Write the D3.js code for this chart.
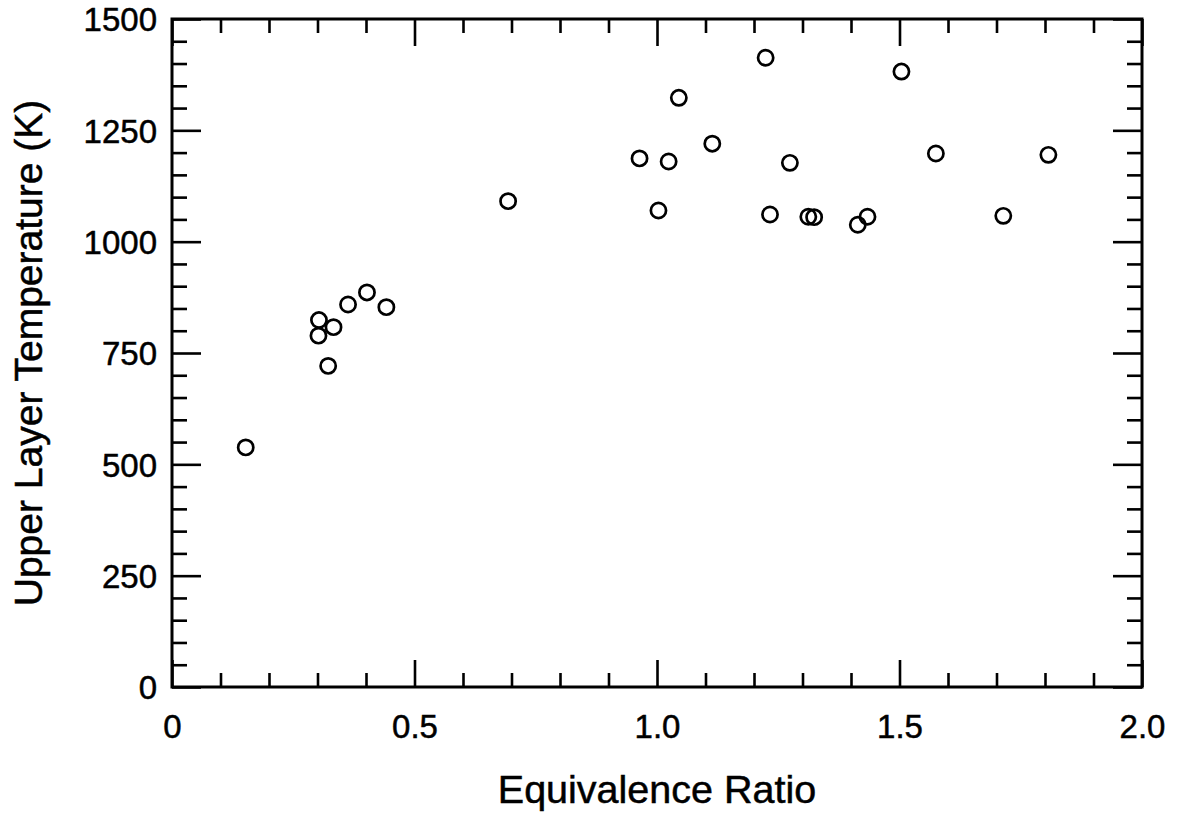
<!DOCTYPE html>
<html>
<head>
<meta charset="utf-8">
<script src="https://cdn.jsdelivr.net/npm/d3@7"></script>
<style>
  body { margin: 0; background: #fff; }
  text { font-family: "Liberation Sans", Arial, Helvetica, sans-serif; fill: #000;
         stroke: #000; stroke-width: 0.5px; }
</style>
</head>
<body>
<div id="chart"></div>
<script>
// data
const phi = [0.152, 0.303, 0.302, 0.333, 0.322, 0.363, 0.402, 0.442, 0.693,
             0.964, 1.003, 1.024, 1.045, 1.114, 1.224, 1.233, 1.274, 1.312, 1.324,
             1.414, 1.434, 1.504, 1.575, 1.714, 1.807];
const temp = [538, 824, 789, 808, 721, 859, 886, 853, 1091,
              1187, 1070, 1180, 1323, 1220, 1413, 1061, 1177, 1056, 1055,
              1038, 1056, 1382, 1198, 1058, 1195];

const xMajor = [0, 0.5, 1.0, 1.5, 2.0];
const xLabels = ["0", "0.5", "1.0", "1.5", "2.0"];
const yMajor = [0, 250, 500, 750, 1000, 1250, 1500];

const W = 1189, H = 826;
const margin = { top: 19, right: 47, bottom: 139, left: 172 };
const width = W - margin.left - margin.right;
const height = H - margin.top - margin.bottom;

const svg = d3.select("#chart").append("svg")
  .attr("width", W).attr("height", H);
const g = svg.append("g")
  .attr("transform", "translate(" + margin.left + "," + margin.top + ")");

const x = d3.scaleLinear().domain([0, 2]).range([0, width]);
const y = d3.scaleLinear().domain([0, 1500]).range([height, 0]);

const xMinor = d3.range(0, 21).map(d => d / 10).filter(d => Math.round(d * 10) % 5 !== 0);
const yMinor = d3.range(0, 1501, 50).filter(d => d % 250 !== 0);

function styleAxis(sel) {
  sel.selectAll(".domain").remove();
  sel.selectAll(".tick line").attr("stroke", "#000").attr("stroke-width", 2.6);
}

// minor ticks
g.append("g").attr("transform", "translate(0," + height + ")")
  .call(d3.axisBottom(x).tickValues(xMinor).tickSize(-14).tickFormat(""))
  .call(styleAxis);
g.append("g")
  .call(d3.axisTop(x).tickValues(xMinor).tickSize(-14).tickFormat(""))
  .call(styleAxis);
g.append("g")
  .call(d3.axisLeft(y).tickValues(yMinor).tickSize(-15).tickFormat(""))
  .call(styleAxis);
g.append("g").attr("transform", "translate(" + width + ",0)")
  .call(d3.axisRight(y).tickValues(yMinor).tickSize(-15).tickFormat(""))
  .call(styleAxis);

// major ticks with labels
const xAx = g.append("g").attr("transform", "translate(0," + height + ")")
  .call(d3.axisBottom(x).tickValues(xMajor).tickSize(-27).tickPadding(0)
    .tickFormat((d, i) => xLabels[i]))
  .call(styleAxis);
xAx.selectAll("text").attr("y", 0).attr("dy", "51px")
  .style("font-size", "33px");

g.append("g")
  .call(d3.axisTop(x).tickValues(xMajor).tickSize(-27).tickFormat(""))
  .call(styleAxis);

const yAx = g.append("g")
  .call(d3.axisLeft(y).tickValues(yMajor).tickSize(-29).tickFormat(d3.format("d")))
  .call(styleAxis);
yAx.selectAll("text").attr("x", -15).attr("dy", "0.36em")
  .style("font-size", "33px");

g.append("g").attr("transform", "translate(" + width + ",0)")
  .call(d3.axisRight(y).tickValues(yMajor).tickSize(-29).tickFormat(""))
  .call(styleAxis);

// frame
g.append("rect")
  .attr("x", 0).attr("y", 0).attr("width", width).attr("height", height)
  .attr("fill", "none").attr("stroke", "#000").attr("stroke-width", 3);

// points
g.selectAll("circle.pt")
  .data(phi.map((p, i) => ({ p: p, t: temp[i] })))
  .join("circle")
  .attr("class", "pt")
  .attr("cx", d => x(d.p))
  .attr("cy", d => y(d.t))
  .attr("r", 7.6)
  .attr("fill", "none")
  .attr("stroke", "#000")
  .attr("stroke-width", 2.7);

// axis titles
svg.append("text")
  .attr("x", margin.left + width / 2).attr("y", 803)
  .attr("text-anchor", "middle")
  .style("font-size", "39.5px")
  .text("Equivalence Ratio");

svg.append("text")
  .attr("transform", "translate(42," + (margin.top + height / 2) + ") rotate(-90)")
  .attr("text-anchor", "middle")
  .style("font-size", "39px")
  .text("Upper Layer Temperature (K)");
</script>
</body>
</html>
